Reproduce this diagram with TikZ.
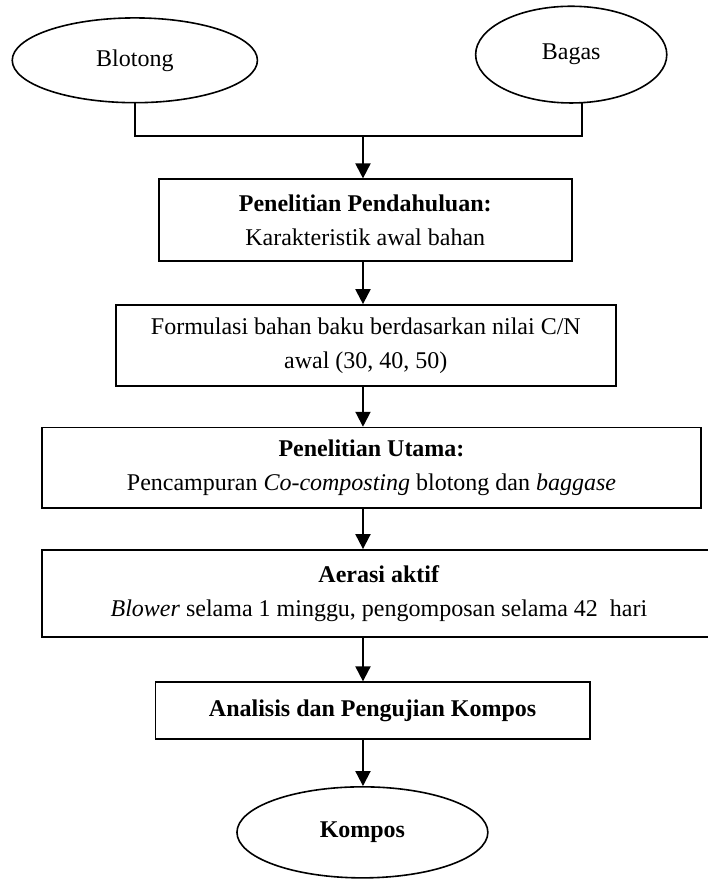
\documentclass[tikz,border=0pt]{standalone}
\usepackage{fontspec}
\setmainfont{Liberation Serif}
\usetikzlibrary{shapes.geometric,arrows.meta}

\tikzset{
  bahan/.style={draw, ellipse, line width=0.8pt, inner sep=0pt},
  proses/.style={draw, rectangle, line width=0.8pt, inner sep=0pt, align=center},
  garis/.style={line width=1pt},
  panah/.style={line width=1pt, -{Triangle[length=7.5pt,width=7.5pt]}}
}

\begin{document}
\begin{tikzpicture}[font=\fontsize{12}{17}\selectfont]
      \useasboundingbox (0, 0) rectangle (12.44, -15.45);
      \clip (0, 0) rectangle (12.44, -15.45);

      % bahan awal
      \node[bahan, minimum width=4.31cm, minimum height=1.49cm] (blotong) at (2.37, -1.06) {Blotong};
      \node[bahan, minimum width=3.36cm, minimum height=1.70cm] (bagas) at (10.04, -0.96) {Bagas};

      % tahapan
      \node[proses, minimum width=7.26cm, minimum height=1.44cm] (pendahuluan) at (6.42, -3.87)
        {\textbf{Penelitian Pendahuluan:}\\Karakteristik awal bahan};
      \node[proses, minimum width=8.79cm, minimum height=1.42cm] (formulasi) at (6.43, -6.07)
        {Formulasi bahan baku berdasarkan nilai C/N\\awal (30, 40, 50)};
      \node[proses, minimum width=11.58cm, minimum height=1.41cm] (utama) at (6.53, -8.22)
        {\textbf{Penelitian Utama:}\\Pencampuran \textit{Co-composting} blotong dan \textit{baggase}};
      \node[proses, minimum width=11.84cm, minimum height=1.53cm] (aerasi) at (6.66, -10.43)
        {\textbf{Aerasi aktif}\\\textit{Blower} selama 1 minggu, pengomposan selama 42~ hari};
      \node[proses, minimum width=7.63cm, minimum height=1.00cm] (analisis) at (6.55, -12.49)
        {\textbf{Analisis dan Pengujian Kompos}};
      \node[bahan, minimum width=4.41cm, minimum height=1.60cm] (kompos) at (6.37, -14.63) {\textbf{Kompos}};

      % penghubung
      \coordinate (gabung) at (6.38, -2.39);
      \draw[garis] (blotong.south) |- (gabung) -| (bagas.-77);
      \draw[panah] (gabung) -- (gabung |- pendahuluan.north);
      \draw[panah] (gabung |- pendahuluan.south) -- (gabung |- formulasi.north);
      \draw[panah] (gabung |- formulasi.south) -- (gabung |- utama.north);
      \draw[panah] (gabung |- utama.south) -- (gabung |- aerasi.north);
      \draw[panah] (gabung |- aerasi.south) -- (gabung |- analisis.north);
      \draw[panah] (gabung |- analisis.south) -- (gabung |- kompos.north);
\end{tikzpicture}
\end{document}
